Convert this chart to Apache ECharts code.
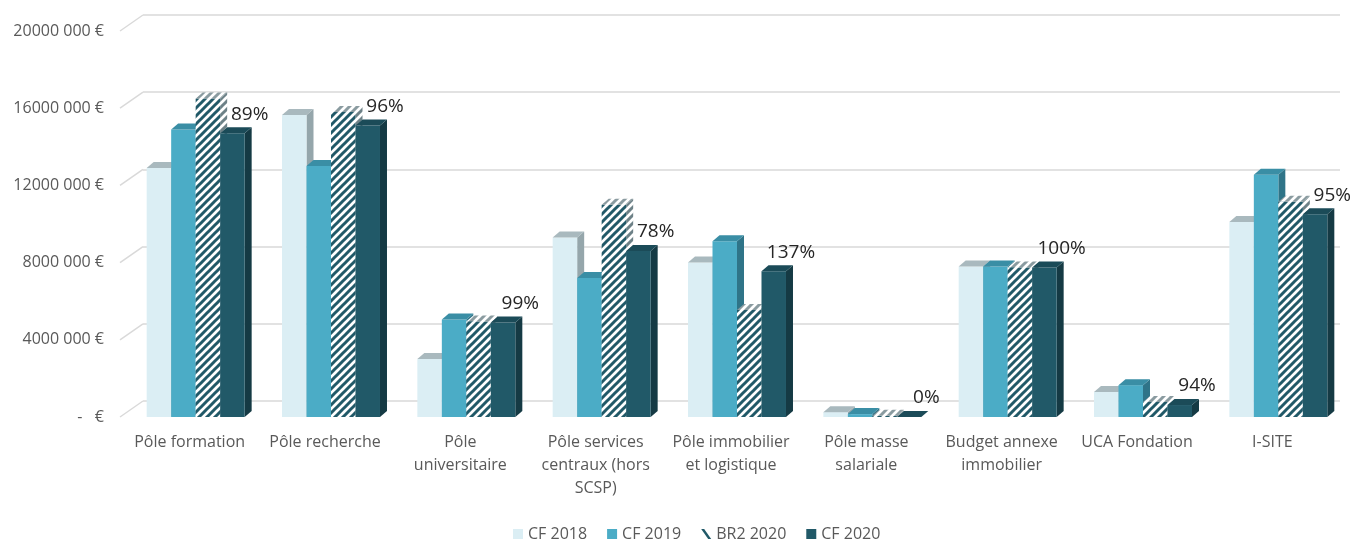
<!DOCTYPE html>
<html>
<head>
<meta charset="utf-8">
<script src="https://cdn.jsdelivr.net/npm/echarts@6/dist/echarts.min.js"></script>
<style>
  html, body { margin: 0; padding: 0; background: #fff; }
  #main { width: 1353px; height: 541px; }
</style>
</head>
<body>
<div id="main"></div>
<script>
// données
const categories = ['Pôle formation', 'Pôle recherche', 'Pôle\nuniversitaire', 'Pôle services\ncentraux (hors\nSCSP)',
  'Pôle immobilier\net logistique', 'Pôle masse\nsalariale', 'Budget annexe\nimmobilier', 'UCA Fondation', 'I-SITE'];
const cf2018 = [12900000, 15650000, 3000000, 9300000, 8000000, 250000, 7800000, 1300000, 10100000];
const cf2019 = [14900000, 13000000, 5050000, 7200000, 9100000, 150000, 7800000, 1650000, 12550000];
const br2020 = [16500000, 15800000, 4950000, 11000000, 5550000, 60000, 7750000, 780000, 11150000];
const cf2020 = [14700000, 15100000, 4900000, 8600000, 7550000, 0, 7750000, 620000, 10500000];
const percents = ['89%', '96%', '99%', '78%', '137%', '0%', '100%', '94%', '95%'];
const yTicks = [0, 4000000, 8000000, 12000000, 16000000, 20000000];

const FONT = '"Open Sans", "Liberation Sans", sans-serif';
const DX = 7, DY = -6;

// motif hachuré
function hatch(fg) {
  const c = document.createElement('canvas');
  c.width = 8; c.height = 8;
  const ctx = c.getContext('2d');
  ctx.fillStyle = '#fff';
  ctx.fillRect(0, 0, 8, 8);
  ctx.strokeStyle = fg;
  ctx.lineWidth = 3;
  ctx.beginPath();
  ctx.moveTo(-2, 10); ctx.lineTo(10, -2);
  ctx.moveTo(-6, 6); ctx.lineTo(6, -6);
  ctx.moveTo(2, 14); ctx.lineTo(14, 2);
  ctx.stroke();
  return { image: c, repeat: 'repeat' };
}

const faces = [
  { front: '#dbeef4', top: '#a9b9be', side: '#95a6ab' },
  { front: '#4bacc6', top: '#3a8ea5', side: '#2f7488' },
  { front: hatch('#215968'), top: hatch('#8a9ba0'), side: hatch('#6d8187') },
  { front: '#215968', top: '#1b4b58', side: '#153a44' }
];

function bar3d(name, data, s, legendColor) {
  return {
    type: 'custom',
    name: name,
    xAxisIndex: 0,
    yAxisIndex: 0,
    itemStyle: { color: legendColor },
    data: data.map((v, i) => [i, v]),
    encode: { x: 0, y: 1 },
    renderItem: function (params, api) {
      const i = api.value(0), v = api.value(1);
      const top = api.coord([i, v]);
      const base = api.coord([i, 0]);
      const band = api.size([1, 0])[0];
      const w = band * 0.181;
      const x0 = top[0] - 2 * w + 6 + s * w;
      const ty = top[1], by = base[1];
      const f = faces[s];
      const children = [
        { type: 'polygon', shape: { points: [[x0 + w, ty], [x0 + w + DX, ty + DY], [x0 + w + DX, by + DY], [x0 + w, by]] }, style: { fill: f.side } },
        { type: 'rect', shape: { x: x0, y: ty, width: w, height: by - ty }, style: { fill: f.front } },
        { type: 'polygon', shape: { points: [[x0, ty], [x0 + w, ty], [x0 + w + DX, ty + DY], [x0 + DX, ty + DY]] }, style: { fill: f.top } }
      ];
      if (s === 3) {
        children.push({
          type: 'text',
          style: {
            text: percents[i], x: x0 + w + 5, y: ty - 19,
            align: 'center', verticalAlign: 'middle',
            fill: '#262626', font: '19px ' + FONT
          }
        });
      }
      return { type: 'group', children: children };
    }
  };
}

let myChart = echarts.init(document.getElementById('main'));
let option = {
  animation: false,
  backgroundColor: '#fff',
  legend: {
    data: [
      { name: 'CF 2018', icon: 'rect' },
      { name: 'CF 2019', icon: 'rect' },
      { name: 'BR2 2020', icon: 'path://M0,0 L3,0 L10,10 L7,10 Z' },
      { name: 'CF 2020', icon: 'rect' }
    ],
    left: 508,
    top: 521,
    itemWidth: 10,
    itemHeight: 10,
    itemGap: 20,
    textStyle: { color: '#595959', fontSize: 16, fontFamily: FONT }
  },
  grid: [
    { left: 122, right: 13, top: 31, bottom: 124 },
    { left: 143, right: 13, top: 15, bottom: 140 }
  ],
  xAxis: [
    {
      type: 'category',
      gridIndex: 0,
      data: categories,
      axisLine: { show: false },
      axisTick: { show: false },
      axisLabel: { color: '#595959', fontSize: 16, fontFamily: FONT, lineHeight: 23, margin: 14, interval: 0 }
    },
    { type: 'category', gridIndex: 1, data: categories, show: false }
  ],
  yAxis: [
    {
      type: 'value',
      gridIndex: 0,
      min: 0, max: 20000000, interval: 4000000,
      axisLine: { show: false },
      axisTick: { show: false },
      splitLine: { show: false },
      axisLabel: {
        color: '#595959', fontSize: 16, fontFamily: FONT, margin: 18,
        formatter: v => v === 0 ? '-   €' : (v / 1000) + ' 000 €'
      }
    },
    {
      type: 'value',
      gridIndex: 1,
      min: 0, max: 20000000, interval: 4000000,
      axisLine: { show: false },
      axisTick: { show: false },
      axisLabel: { show: false },
      splitLine: { lineStyle: { color: '#d9d9d9', width: 1.5 } }
    }
  ],
  series: [
    {
      type: 'custom',
      name: 'ticks',
      xAxisIndex: 0,
      yAxisIndex: 0,
      silent: true,
      data: yTicks.map(v => [0, v]),
      encode: { x: 0, y: 1 },
      renderItem: function (params, api) {
        const p = api.coord([0, api.value(1)]);
        const gx = params.coordSys.x;
        return {
          type: 'line',
          shape: { x1: gx - 2, y1: p[1], x2: gx + 21, y2: p[1] - 16 },
          style: { stroke: '#d9d9d9', lineWidth: 1.5 }
        };
      }
    },
    bar3d('CF 2018', cf2018, 0, '#dbeef4'),
    bar3d('CF 2019', cf2019, 1, '#4bacc6'),
    bar3d('BR2 2020', br2020, 2, '#215968'),
    bar3d('CF 2020', cf2020, 3, '#215968')
  ]
};

option && myChart.setOption(option);
</script>
</body>
</html>
